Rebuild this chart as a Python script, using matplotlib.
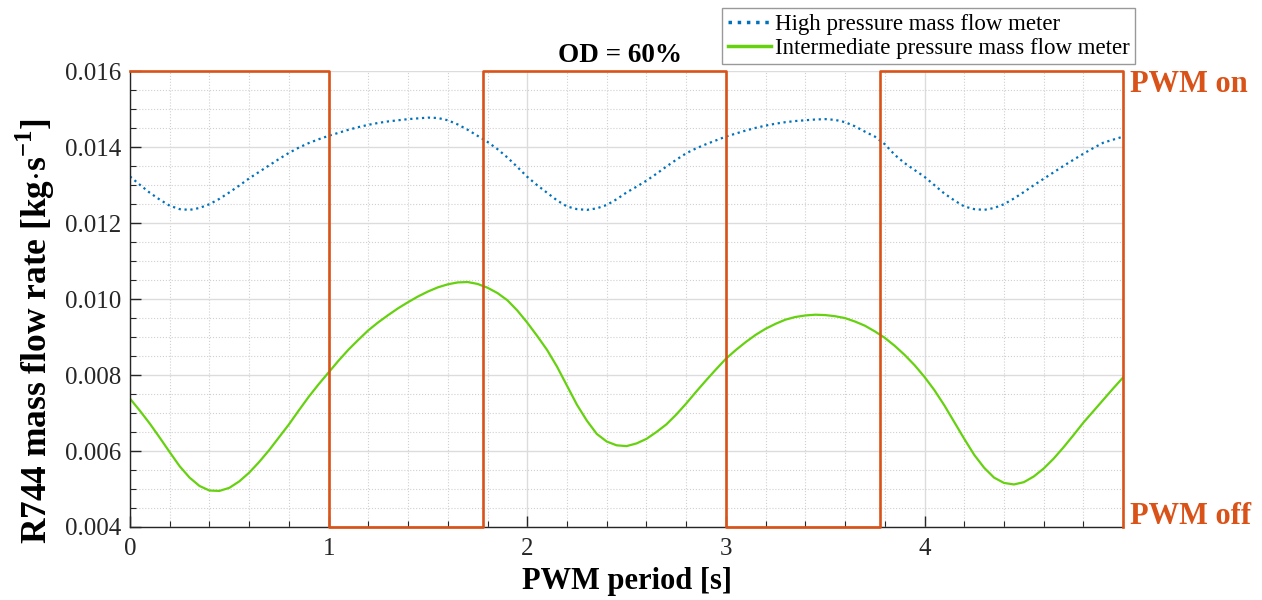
import matplotlib
matplotlib.use('Agg')
import matplotlib.pyplot as plt
import numpy as np
from matplotlib.ticker import MultipleLocator

plt.rcParams['font.family'] = ['Liberation Serif', 'DejaVu Serif']
plt.rcParams['mathtext.fontset'] = 'custom'
plt.rcParams['mathtext.rm'] = 'Liberation Serif'
plt.rcParams['mathtext.bf'] = 'Liberation Serif:bold'

# PWM period [s], read every 0.05 s
time_s = np.round(np.arange(0, 5.001, 0.05), 2)

# High pressure mass flow meter [kg/s]
high_flow = [0.01323, 0.01301, 0.01280, 0.01262, 0.01246, 0.01237, 0.01235, 0.01240, 0.01250, 0.01264,
             0.01281, 0.01299, 0.01318, 0.01335, 0.01352, 0.01369, 0.01385, 0.01399, 0.01411, 0.01421,
             0.01430, 0.01438, 0.01446, 0.01453, 0.01459, 0.01464, 0.01468, 0.01471, 0.01474, 0.01476,
             0.01478, 0.01477, 0.01471, 0.01460, 0.01446, 0.01430, 0.01414, 0.01395, 0.01373, 0.01348,
             0.01322, 0.01300, 0.01280, 0.01260, 0.01244, 0.01237, 0.01235, 0.01239, 0.01248, 0.01263,
             0.01281, 0.01296, 0.01312, 0.01330, 0.01349, 0.01367, 0.01384, 0.01397, 0.01408, 0.01418,
             0.01428, 0.01436, 0.01444, 0.01451, 0.01457, 0.01462, 0.01466, 0.01469, 0.01471, 0.01473,
             0.01474, 0.01472, 0.01466, 0.01455, 0.01441, 0.01428, 0.01408, 0.01380, 0.01358, 0.01340,
             0.01322, 0.01300, 0.01278, 0.01260, 0.01244, 0.01237, 0.01235, 0.01240, 0.01250, 0.01265,
             0.01282, 0.01300, 0.01317, 0.01334, 0.01351, 0.01367, 0.01383, 0.01398, 0.01412, 0.01420,
             0.01428]

# Intermediate pressure mass flow meter [kg/s]
mid_flow = [0.00738, 0.00706, 0.00672, 0.00635, 0.00597, 0.00560, 0.00530, 0.00508, 0.00496, 0.00495,
            0.00503, 0.00520, 0.00543, 0.00571, 0.00602, 0.00636, 0.00670, 0.00707, 0.00743, 0.00776,
            0.00807, 0.00838, 0.00867, 0.00893, 0.00918, 0.00939, 0.00958, 0.00976, 0.00992, 0.01007,
            0.01020, 0.01031, 0.01039, 0.01044, 0.01045, 0.01040, 0.01030, 0.01016, 0.00997, 0.00970,
            0.00938, 0.00903, 0.00866, 0.00822, 0.00772, 0.00722, 0.00680, 0.00645, 0.00625, 0.00615,
            0.00613, 0.00620, 0.00632, 0.00650, 0.00670, 0.00696, 0.00725, 0.00756, 0.00786, 0.00815,
            0.00843, 0.00866, 0.00887, 0.00906, 0.00922, 0.00935, 0.00946, 0.00953, 0.00957, 0.00959,
            0.00958, 0.00955, 0.00950, 0.00941, 0.00930, 0.00915, 0.00898, 0.00877, 0.00853, 0.00826,
            0.00795, 0.00760, 0.00720, 0.00676, 0.00632, 0.00590, 0.00556, 0.00530, 0.00516, 0.00512,
            0.00518, 0.00533, 0.00554, 0.00580, 0.00610, 0.00642, 0.00675, 0.00705, 0.00735, 0.00765,
            0.00794]

# PWM switching instants and state (1 = on, 0 = off)
pwm_edges = [0.0, 1.0, 1.775, 3.0, 3.775, 5.0]
pwm_state = [1, 0, 1, 0, 1, 0]

y_min, y_max = 0.004, 0.016
pwm_level = [y_max if s else y_min for s in pwm_state]

orange = '#D95319'

fig = plt.figure(figsize=(12.62, 6), dpi=100)
ax = fig.add_axes([0.103, 0.1217, 0.787, 0.7595])

ax.plot(time_s, high_flow, linestyle=':', color='#0072BD', lw=1.6,
        label='High pressure mass flow meter')
ax.plot(time_s, mid_flow, linestyle='-', color='#66D10F', lw=1.6,
        label='Intermediate pressure mass flow meter')
ax.step(pwm_edges, pwm_level, where='post', color=orange, lw=1.9, clip_on=False, zorder=5)

ax.set_xlim(0, 5)
ax.set_ylim(y_min, y_max)
ax.set_xticks([0, 1, 2, 3, 4])
yt = np.arange(0.004, 0.0161, 0.002)
ax.set_yticks(yt)
ax.set_yticklabels(['%.3f' % v for v in yt])
ax.xaxis.set_minor_locator(MultipleLocator(0.2))
ax.yaxis.set_minor_locator(MultipleLocator(0.0005))

ax.grid(which='major', color='#dcdcdc', lw=1.0, ls='-')
ax.grid(which='minor', color='#d0d0d0', lw=0.8, ls=':')
ax.set_axisbelow(True)

ax.tick_params(which='both', direction='in', labelsize=18, colors='#262626')
ax.tick_params(which='major', length=8, width=1)
ax.tick_params(which='minor', length=4, width=0.8)
ax.tick_params(axis='x', pad=8)
ax.tick_params(axis='y', pad=6)
for s in ['top', 'right']:
    ax.spines[s].set_visible(False)
for s in ['left', 'bottom']:
    ax.spines[s].set_color('#262626')
    ax.spines[s].set_linewidth(1.0)

ax.set_xlabel('PWM period [s]', fontsize=22, fontweight='bold', labelpad=5)
ax.set_ylabel(r'R744 mass flow rate [kg$\cdot$s$^{\mathbf{-1}}$]', fontsize=25.5,
              fontweight='bold')
ax.yaxis.set_label_coords(-0.073, 0.43)

fig.text(620 / 1262, 1 - 55 / 600, 'OD = 60%', fontsize=19.5, fontweight='bold',
         ha='center', va='center')
fig.text(1130 / 1262, 1 - 85 / 600, 'PWM on', fontsize=22, fontweight='bold',
         color=orange, ha='left', va='center')
fig.text(1130 / 1262, 1 - 517 / 600, 'PWM off', fontsize=22, fontweight='bold',
         color=orange, ha='left', va='center')

leg = fig.legend(loc='upper left', bbox_to_anchor=(722 / 1262, 1 - 8 / 600),
                 fontsize=16.5, frameon=True, fancybox=False, handlelength=1.9,
                 handletextpad=0.15, labelspacing=0.12, borderpad=0.25,
                 borderaxespad=0)
leg.get_frame().set_edgecolor('#808080')
leg.get_frame().set_linewidth(1.0)
for line in leg.get_lines():
    line.set_linewidth(2.5)

fig.savefig('out.png', dpi=100)
